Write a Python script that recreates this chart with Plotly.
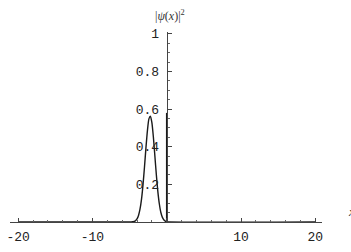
import plotly.graph_objects as go

# |psi(x)|^2
x_vals = [-20, -6, -5.2, -4.8, -4.6, -4.4, -4.2, -4.0, -3.8, -3.6, -3.4, -3.2, -3.0, -2.8,
          -2.6, -2.4, -2.2, -2.0, -1.8, -1.6, -1.4, -1.2, -1.0, -0.8, -0.6, -0.4, -0.2, 0, 20]
psi2 = [0, 0, 0, 0.0003, 0.001, 0.003, 0.007, 0.016, 0.035, 0.068, 0.120, 0.196, 0.291, 0.394,
        0.486, 0.548, 0.563, 0.528, 0.452, 0.352, 0.251, 0.163, 0.097, 0.052, 0.026, 0.012, 0.005, 0.002, 0]

# wall at x = 0
wall_x = [0, 0]
wall_y = [0, 0.58]

x_ticks = [-20, -10, 0, 10, 20]
x_ticktext = ["-20", "-10", "", "10", "20"]
y_ticks = [0.2, 0.4, 0.6, 0.8, 1.0]
y_ticktext = ["0.2", "0.4", "0.6", "0.8", "1"]

W, H = 351, 252
ml, mr, mt, mb = 7, 29, 32, 23
x_range = [-21.1, 20.9]
y_range = [0, 1.01]

fig = go.Figure()
fig.add_trace(go.Scatter(x=x_vals, y=psi2, mode="lines", line=dict(color="#1a1a1a", width=1.4, shape="spline", smoothing=0.6), cliponaxis=False, showlegend=False))
fig.add_trace(go.Scatter(x=wall_x, y=wall_y, mode="lines", line=dict(color="#1a1a1a", width=1.6), showlegend=False))

tick_font = dict(family="Liberation Mono, Courier New, monospace", size=13, color="#222222")

fig.update_layout(
    width=W, height=H,
    margin=dict(l=ml, r=mr, t=mt, b=mb, pad=0),
    paper_bgcolor="white", plot_bgcolor="white",
    xaxis=dict(range=x_range, showgrid=False, zeroline=False, showline=True, linecolor="#444444", linewidth=1,
               ticks="inside", ticklen=4, tickcolor="#444444", tickwidth=1,
               tickmode="array", tickvals=x_ticks, ticktext=x_ticktext, tickfont=tick_font,
               ticklabelstandoff=2,
               minor=dict(tickmode="linear", tick0=0, dtick=2, ticks="inside", ticklen=2, tickcolor="#666666", showgrid=False),
               fixedrange=True),
    yaxis=dict(range=y_range, showgrid=False, zeroline=False, showline=True, linecolor="#444444", linewidth=1,
               anchor="free", position=(0 - x_range[0]) / (x_range[1] - x_range[0]),
               ticks="inside", ticklen=4, tickcolor="#444444", tickwidth=1,
               tickmode="array", tickvals=y_ticks, ticktext=y_ticktext, tickfont=tick_font,
               ticklabelstandoff=5,
               minor=dict(tickmode="linear", tick0=0, dtick=0.05, ticks="inside", ticklen=2, tickcolor="#666666", showgrid=False),
               fixedrange=True),
)

pw = W - ml - mr
ph = H - mt - mb
def px_to_paper(px, py):
    return (px - ml) / pw, 1 - (py - mt) / ph

ax, ay = px_to_paper(169, 15)
fig.add_annotation(x=ax, y=ay, xref="paper", yref="paper", showarrow=False,
                   xanchor="center", yanchor="middle",
                   text="|<i>ψ</i>(<i>x</i>)|<sup>2</sup>",
                   font=dict(family="Liberation Serif, Times New Roman, serif", size=12, color="#333333"))
bx, by = px_to_paper(346, 218)
fig.add_annotation(x=bx, y=by, xref="paper", yref="paper", showarrow=False,
                   xanchor="left", yanchor="middle",
                   text="<i>x</i>",
                   font=dict(family="Liberation Serif, Times New Roman, serif", size=13, color="#333333"))

fig.write_html("out.html")
